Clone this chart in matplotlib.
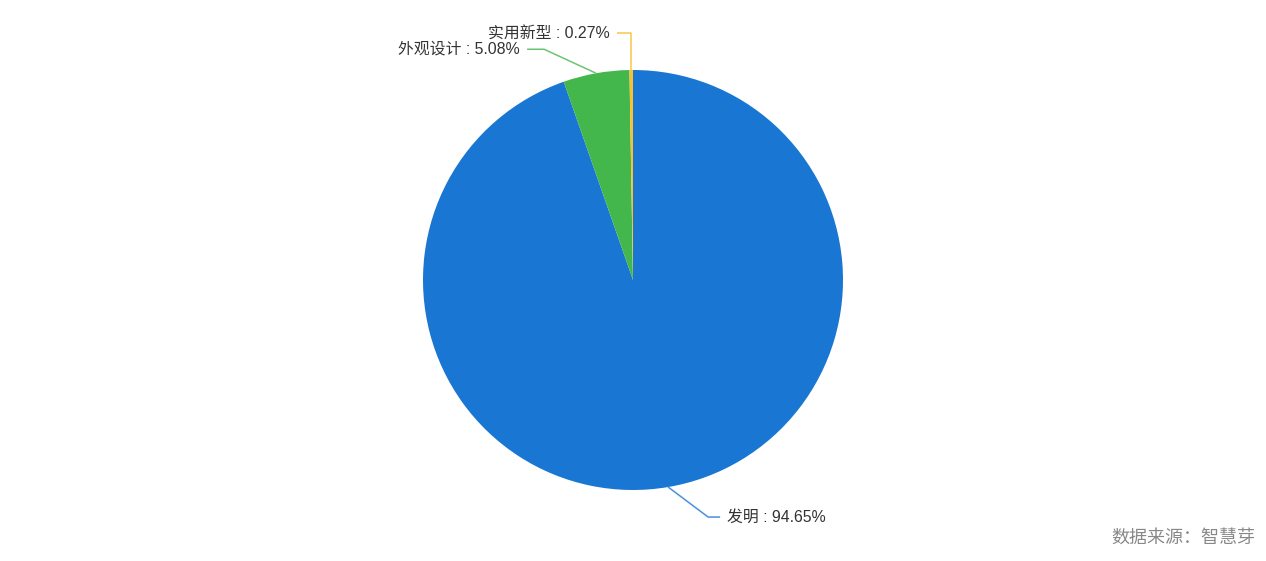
import matplotlib
matplotlib.use("Agg")
import matplotlib.pyplot as plt
import numpy as np

plt.rcParams['font.family'] = ['Liberation Sans', 'Noto Sans CJK SC', 'DejaVu Sans']

categories = ['发明', '外观设计', '实用新型']
values = [94.65, 5.08, 0.27]
colors = ['#1976D2', '#43B64C', '#FBC02D']
line_colors = ['#4A90DC', '#6CC472', '#FBC64A']
source_text = '数据来源：智慧芽'

W, H = 1266, 561
fig = plt.figure(figsize=(W / 100, H / 100), dpi=100)
ax = fig.add_axes([0, 0, 1, 1])
ax.set_xlim(0, W)
ax.set_ylim(0, H)
ax.axis('off')

cx, cy, R = 633, H - 280, 210
wedges, _ = ax.pie(values, colors=colors, startangle=90, counterclock=False,
                   center=(cx, cy), radius=R,
                   wedgeprops=dict(linewidth=0))
ax.set_xlim(0, W)
ax.set_ylim(0, H)
ax.set_aspect('equal')

# label guide layout: (elbow dx, elbow dy, horizontal length, side)
guides = [
    (40, -30, 12, 1),
    (-52, 24, 17, -1),
    (0, 37, 14, -1),
]
for w, cat, val, lc, (gx, gy, hl, side) in zip(wedges, categories, values, line_colors, guides):
    mid = np.deg2rad((w.theta1 + w.theta2) / 2)
    px, py = cx + R * np.cos(mid), cy + R * np.sin(mid)
    ex, ey = px + gx, py + gy
    hx = ex + side * hl
    ax.plot([px, ex, hx], [py, ey, ey], color=lc, lw=1.1, solid_capstyle='butt')
    ax.text(hx + side * 7, ey, f'{cat} : {val:.2f}%', ha='left' if side > 0 else 'right',
            va='center', fontsize=11.4, color='#333333')

ax.text(1255, H - 538, source_text, ha='right', va='center', fontsize=13, color='#888888')

fig.savefig('out.png', dpi=100)
